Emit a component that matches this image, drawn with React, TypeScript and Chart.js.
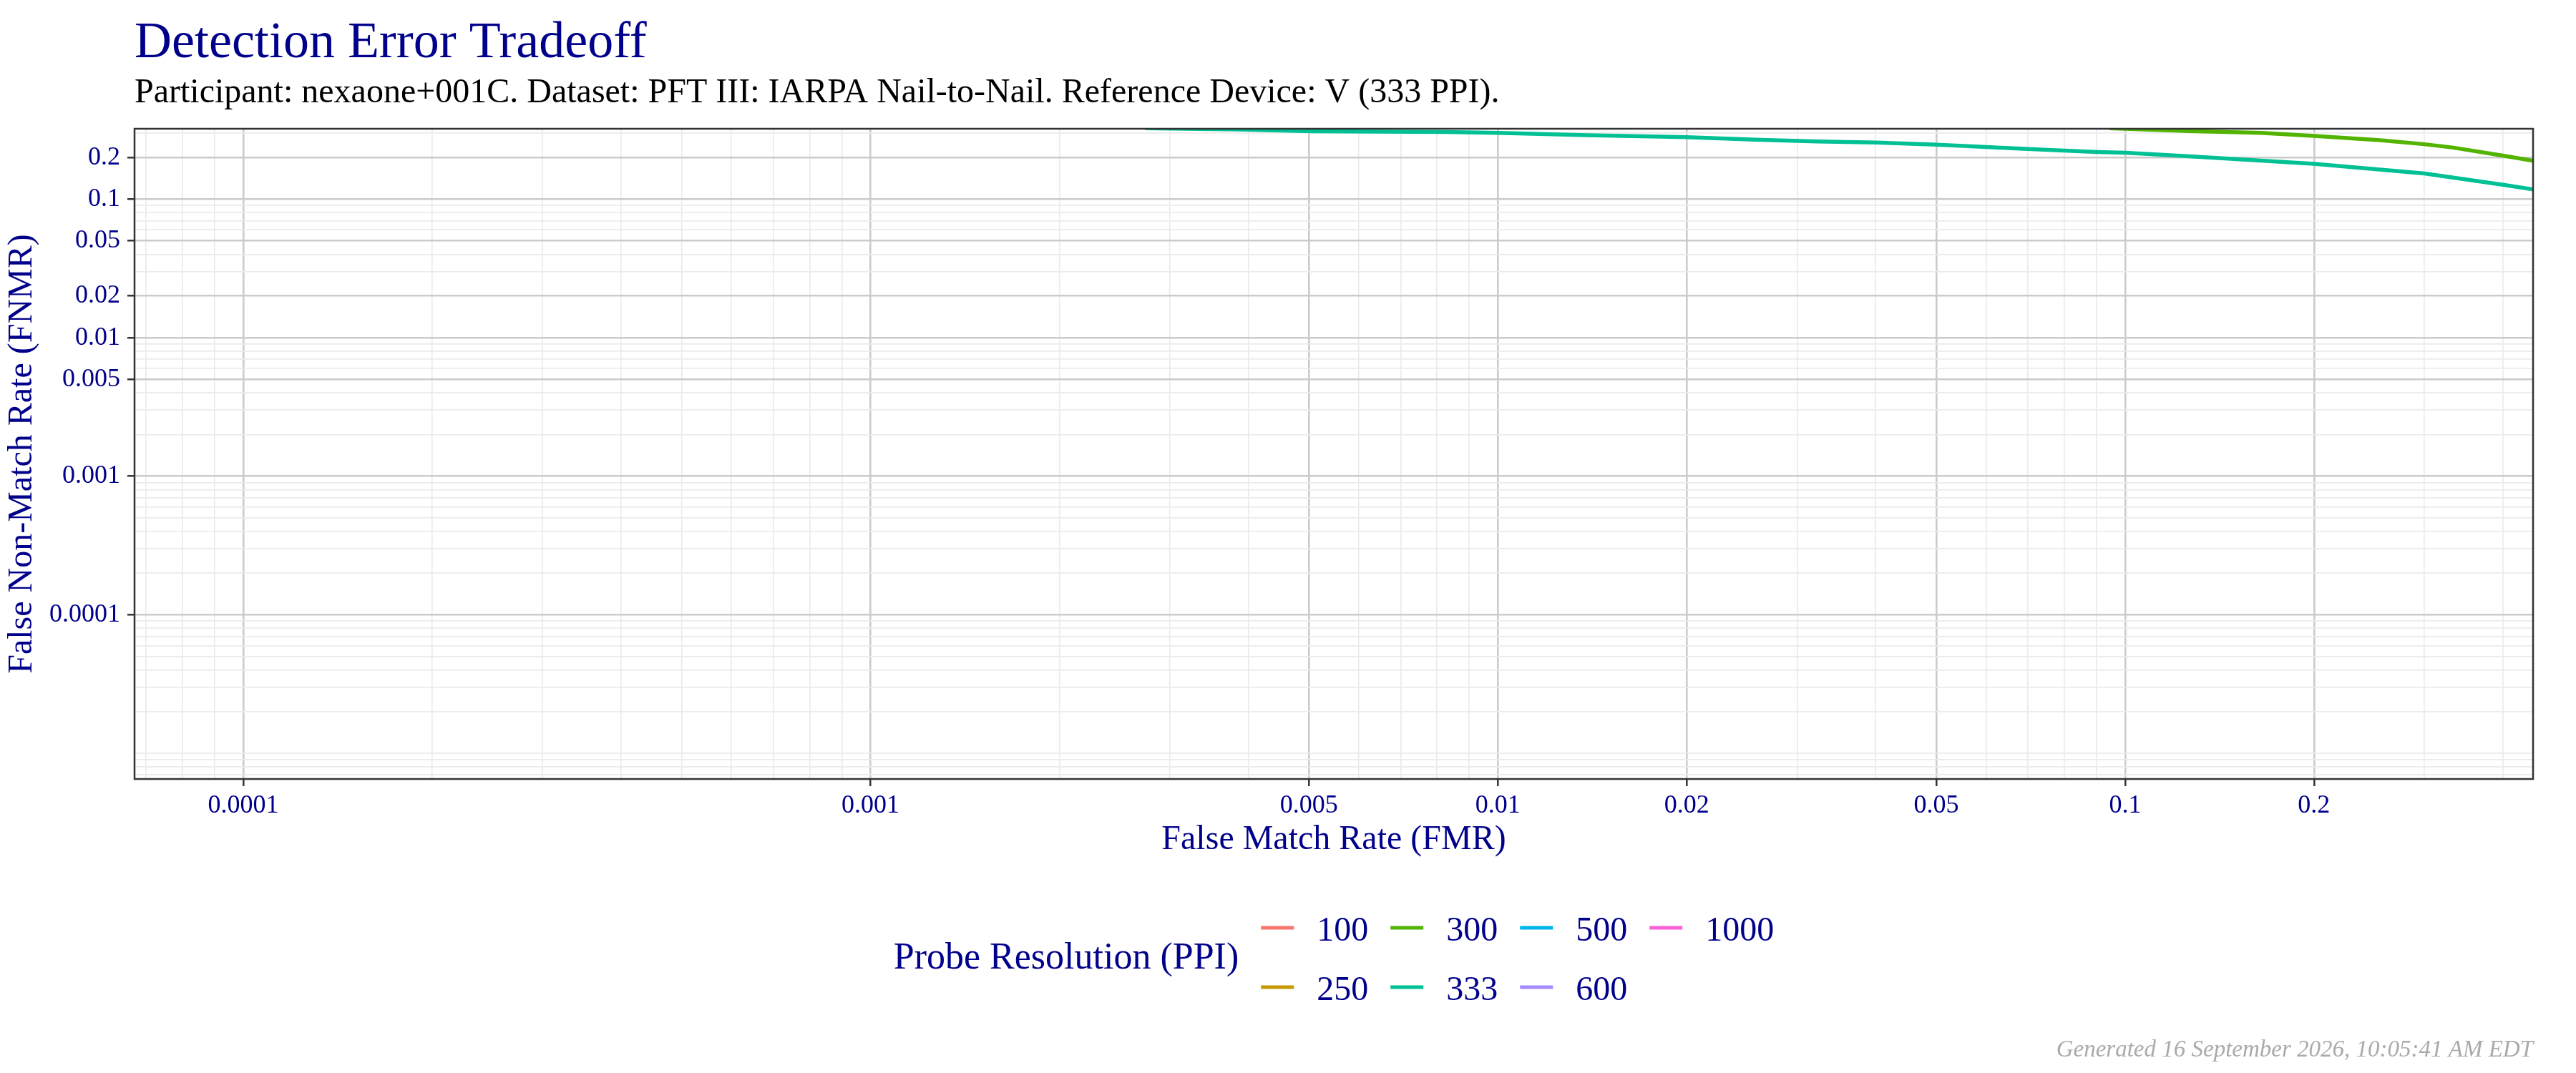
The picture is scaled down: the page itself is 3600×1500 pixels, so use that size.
import { useEffect, useRef } from "react";
import { Chart, registerables } from "chart.js";

Chart.register(...registerables);

// Probe resolutions (PPI) and their ggplot hue colours
const seriesLabels = ["100", "250", "300", "333", "500", "600", "1000"];
const seriesColors = ["#F8766D", "#C49A00", "#53B400", "#00C094", "#00B6EB", "#A58AFF", "#FB61D7"];

// FMR / FNMR (only 300 and 333 show inside the panel)
const fmr300 = [0.0944, 0.1266, 0.1647, 0.2, 0.255, 0.3, 0.332, 0.4, 0.45];
const fnmr300 = [0.325, 0.31, 0.301, 0.286, 0.266, 0.249, 0.236, 0.206, 0.188];
const fmr333 = [
  0.00274, 0.00388, 0.00505, 0.00824, 0.01, 0.0139, 0.02, 0.0257, 0.0323, 0.0401,
  0.0501, 0.0699, 0.09, 0.1, 0.1266, 0.2, 0.3, 0.4, 0.45,
];
const fnmr333 = [
  0.325, 0.318, 0.309, 0.305, 0.301, 0.289, 0.28, 0.269, 0.261, 0.256,
  0.247, 0.23, 0.219, 0.216, 0.204, 0.18, 0.153, 0.127, 0.117,
];
const noPoints: number[] = [];
const seriesFmr = [noPoints, noPoints, fmr300, fmr333, noPoints, noPoints, noPoints];
const seriesFnmr = [noPoints, noPoints, fnmr300, fnmr333, noPoints, noPoints, noPoints];

// Axis ticks
const xTickValues = [0.0001, 0.001, 0.005, 0.01, 0.02, 0.05, 0.1, 0.2];
const xTickLabels = ["0.0001", "0.001", "0.005", "0.01", "0.02", "0.05", "0.1", "0.2"];
const yTickValues = [0.0001, 0.001, 0.005, 0.01, 0.02, 0.05, 0.1, 0.2];
const yTickLabels = ["0.0001", "0.001", "0.005", "0.01", "0.02", "0.05", "0.1", "0.2"];
const xMin = 6.71e-5;
const xMax = 0.447;
const yMin = 6.53e-6;
const yMax = 0.322;

const titleText = "Detection Error Tradeoff";
const subtitleText =
  "Participant: nexaone+001C. Dataset: PFT III: IARPA Nail-to-Nail. Reference Device: V (333 PPI).";
const xTitle = "False Match Rate (FMR)";
const yTitle = "False Non-Match Rate (FNMR)";
const legendTitle = "Probe Resolution (PPI)";
const footerText = "Generated 16 September 2026, 10:05:41 AM EDT";

const W = 3600;
const H = 1500;
const FONT = '"Liberation Serif", "Times New Roman", serif';
const NAVY = "#00008B";
const MAJOR_GRID = "#cbcbcb";
const MINOR_GRID = "#ebebeb";

const sameValue = (a: number, b: number) => Math.abs(Math.log10(a) - Math.log10(b)) < 1e-6;
const isMajor = (v: number, majors: number[]) => majors.some((m) => sameValue(m, v));

// major ticks plus the 1..9 x 10^k minor grid inside the range
function gridValues(min: number, max: number, majors: number[]) {
  const out: number[] = [...majors];
  for (let e = Math.floor(Math.log10(min)); e <= Math.ceil(Math.log10(max)); e++) {
    for (let k = 1; k <= 9; k++) {
      const v = Number((k * Math.pow(10, e)).toPrecision(6));
      if (v >= min && v <= max && !isMajor(v, majors)) out.push(v);
    }
  }
  return out.sort((a, b) => a - b);
}

function labelFor(v: number, values: number[], labels: string[]) {
  const i = values.findIndex((m) => sameValue(m, v));
  return i >= 0 ? labels[i] : "";
}

const decorPlugin = {
  id: "decor",
  afterDatasetsDraw(chart: any) {
    const { ctx, chartArea: a } = chart;
    ctx.save();
    ctx.strokeStyle = "#333333";
    ctx.lineWidth = 2.5;
    ctx.strokeRect(a.left, a.top, a.right - a.left, a.bottom - a.top);
    ctx.restore();
  },
  afterDraw(chart: any) {
    const { ctx, chartArea: a } = chart;
    const cx = (a.left + a.right) / 2;
    const cy = (a.top + a.bottom) / 2;
    ctx.save();
    ctx.textBaseline = "alphabetic";

    // title + subtitle
    ctx.textAlign = "left";
    ctx.fillStyle = NAVY;
    ctx.font = `72px ${FONT}`;
    ctx.fillText(titleText, a.left, 80);
    ctx.fillStyle = "#000000";
    ctx.font = `48px ${FONT}`;
    ctx.fillText(subtitleText, a.left, 143);

    // axis titles
    ctx.fillStyle = NAVY;
    ctx.font = `48px ${FONT}`;
    ctx.textAlign = "center";
    ctx.fillText(xTitle, cx, 1187);
    ctx.save();
    ctx.translate(44, cy);
    ctx.rotate(-Math.PI / 2);
    ctx.fillText(yTitle, 0, 0);
    ctx.restore();

    // legend: title on the left, keys in 2 rows filled column by column
    const datasets = chart.data.datasets;
    const rows = 2;
    const cols = Math.ceil(datasets.length / rows);
    const keyW = 46;
    const keyGap = 32;
    const colGap = 31;
    const titleGap = 31;
    ctx.font = `52px ${FONT}`;
    const titleW = ctx.measureText(legendTitle).width;
    ctx.font = `48px ${FONT}`;
    const colW: number[] = [];
    for (let c = 0; c < cols; c++) {
      let w = 0;
      for (let r = 0; r < rows; r++) {
        const d = datasets[c * rows + r];
        if (d) w = Math.max(w, ctx.measureText(d.label).width);
      }
      colW.push(w);
    }
    const total =
      titleW + titleGap + colW.reduce((s, w) => s + keyW + keyGap + w, 0) + (cols - 1) * colGap;
    let x = cx - total / 2;
    const rowY = [1297, 1380];
    ctx.textAlign = "left";
    ctx.fillStyle = NAVY;
    ctx.font = `52px ${FONT}`;
    ctx.fillText(legendTitle, x, 1354);
    x += titleW + titleGap;
    ctx.font = `48px ${FONT}`;
    for (let c = 0; c < cols; c++) {
      for (let r = 0; r < rows; r++) {
        const d = datasets[c * rows + r];
        if (!d) continue;
        ctx.strokeStyle = d.borderColor;
        ctx.lineWidth = 5;
        ctx.lineCap = "butt";
        ctx.beginPath();
        ctx.moveTo(x, rowY[r]);
        ctx.lineTo(x + keyW, rowY[r]);
        ctx.stroke();
        ctx.fillStyle = NAVY;
        ctx.fillText(d.label, x + keyW + keyGap, rowY[r] + 18);
      }
      x += keyW + keyGap + colW[c] + colGap;
    }

    // footer
    ctx.textAlign = "right";
    ctx.fillStyle = "#aaaaaa";
    ctx.font = `italic 33px ${FONT}`;
    ctx.fillText(footerText, a.right, 1477);
    ctx.restore();
  },
};

export default function App() {
  const canvasRef = useRef<HTMLCanvasElement>(null);
  const chartRef = useRef<Chart | null>(null);

  useEffect(() => {
    document.body.style.margin = "0";
    if (!canvasRef.current) return;
    if (chartRef.current) chartRef.current.destroy();

    const gridColor = (majors: number[]) => (c: any) =>
      c.tick && isMajor(c.tick.value, majors) ? MAJOR_GRID : MINOR_GRID;
    const gridWidth = (majors: number[]) => (c: any) =>
      c.tick && isMajor(c.tick.value, majors) ? 2.6 : 1.7;
    const tickColor = (majors: number[]) => (c: any) =>
      c.tick && isMajor(c.tick.value, majors) ? "#333333" : "rgba(0,0,0,0)";

    chartRef.current = new Chart(canvasRef.current, {
      type: "line",
      data: {
        datasets: seriesLabels.map((label, i) => ({
          label,
          data: seriesFmr[i].map((x, j) => ({ x, y: seriesFnmr[i][j] })),
          borderColor: seriesColors[i],
          backgroundColor: seriesColors[i],
          borderWidth: 5.5,
          pointRadius: 0,
          tension: 0,
          fill: false,
          clip: 0,
        })),
      },
      options: {
        responsive: false,
        animation: false,
        devicePixelRatio: 1,
        layout: { padding: { left: 0, top: 180, right: 60, bottom: 0 } },
        plugins: {
          legend: { display: false },
          title: { display: false },
          tooltip: { enabled: false },
        },
        scales: {
          x: {
            type: "logarithmic",
            min: xMin,
            max: xMax,
            afterBuildTicks: (scale: any) => {
              scale.ticks = gridValues(xMin, xMax, xTickValues).map((v) => ({ value: v }));
            },
            afterFit: (scale: any) => {
              scale.height = H - 1089;
            },
            border: { display: false },
            grid: {
              color: gridColor(xTickValues),
              lineWidth: gridWidth(xTickValues),
              tickColor: tickColor(xTickValues),
              tickWidth: 2.5,
              tickLength: 10,
            },
            ticks: {
              autoSkip: false,
              maxRotation: 0,
              minRotation: 0,
              padding: 6,
              color: NAVY,
              font: { family: FONT, size: 36 },
              callback: (v: any) => labelFor(Number(v), xTickValues, xTickLabels),
            },
          },
          y: {
            type: "logarithmic",
            min: yMin,
            max: yMax,
            afterBuildTicks: (scale: any) => {
              scale.ticks = gridValues(yMin, yMax, yTickValues).map((v) => ({ value: v }));
            },
            afterFit: (scale: any) => {
              scale.width = 188;
            },
            border: { display: false },
            grid: {
              color: gridColor(yTickValues),
              lineWidth: gridWidth(yTickValues),
              tickColor: tickColor(yTickValues),
              tickWidth: 2.5,
              tickLength: 10,
            },
            ticks: {
              autoSkip: false,
              padding: 10,
              color: NAVY,
              font: { family: FONT, size: 36 },
              callback: (v: any) => labelFor(Number(v), yTickValues, yTickLabels),
            },
          },
        },
      },
      plugins: [decorPlugin],
    } as any);

    return () => {
      if (chartRef.current) {
        chartRef.current.destroy();
        chartRef.current = null;
      }
    };
  }, []);

  return (
    <div style={{ width: W, height: H, background: "#ffffff" }}>
      <canvas ref={canvasRef} width={W} height={H} style={{ display: "block" }} />
    </div>
  );
}
